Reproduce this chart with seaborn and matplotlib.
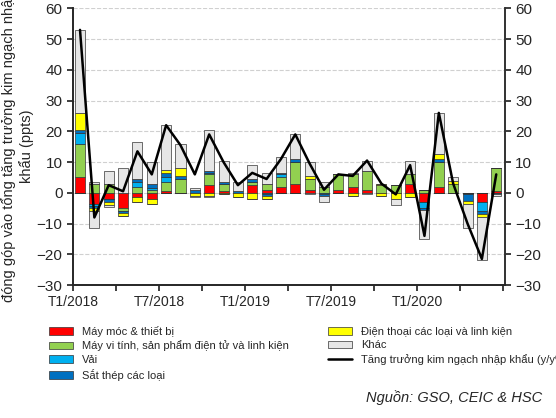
import numpy as np
import pandas as pd
import matplotlib.pyplot as plt
import seaborn as sns

sns.set_theme(style="white")
plt.rcParams["font.family"] = ["Arial", "Liberation Sans", "DejaVu Sans"]

# Months Jan 2018 - Jun 2020
months = pd.date_range("2018-01-01", "2020-06-01", freq="MS")
tick_labels = ["T1/2018", "T7/2018", "T1/2019", "T7/2019", "T1/2020"]

# Total import growth (y/y%)
total = [53, -8, 2.5, 0.5, 13.5, 6, 22, 15.5, 6, 19, 10, 2.5,
         6.5, 4.5, 11, 19, 9.5, 1, 6, 5.5, 10.5, 3, -0.5, 9,
         -14, 26, 3, -10, -21.5, 6]

# Contributions (ppts): positive part and negative part per category
may_moc_pos = [5, 0, 0, 0, 0, 0, 0.5, 0, 0, 2.5, 0.5, 0, 2.5, 1, 2, 3, 1, 0, 1, 2, 1, 0, 0, 3, 0, 2, 0, 0, 0, 0.5]
may_moc_neg = [0, -3.5, -2, -5, -1.5, -2, 0, 0, 0, 0, 0, 0, 0, 0, 0, 0, 0, 0, 0, 0, 0, 0, 0, 0, -3, 0, 0, 0, -3, 0]
may_tinh_pos = [11, 3, 3, 0, 2, 1, 3, 4.5, 0, 3.5, 2.5, 0, 1, 2, 3, 7, 3.5, 2, 5, 4, 6, 2.5, 2.5, 3, 1, 8, 3, 0, 0, 7.5]
may_tinh_neg = [0, 0, 0, -1, 0, 0, 0, 0, 0, 0, 0, 0, 0, 0, 0, 0, 0, 0, 0, 0, 0, 0, 0, 0, 0, 0, 0, -0.5, 0, 0]
vai_pos = [3.5, 0, 0, 0, 1.5, 0.5, 1.5, 0, 0, 0.5, 0, 0, 0, 0, 1, 0, 0, 0, 0, 0, 0, 0, 0, 0, 0, 0, 0, 0, 0, 0]
vai_neg = [0, -0.8, 0, 0, 0, 0, 0, 0, 0, 0, 0, 0, 0, -0.5, 0, 0, 0, -0.5, 0, 0, 0, 0, 0, 0, -2, 0, 0, 0, -3, 0]
sat_thep_pos = [1, 0, 0, 0, 1, 1.5, 1.5, 1, 1, 0.5, 0.5, 0.5, 1, 0, 0.5, 1, 0, 0, 0, 0, 0, 0, 0, 0, 0, 1, 0, 0, 0, 0]
sat_thep_neg = [0, -0.5, -1, -0.5, 0, 0, 0, 0, 0, 0, 0, 0, 0, -0.5, 0, 0, 0, -0.5, 0, 0, 0, 0, 0, 0, -0.5, 0, 0, -2, -1, -0.5]
dien_thoai_pos = [5.5, 0, 0, 0, 0, 0, 1, 2.5, 0, 0, 0, 0, 0, 0, 0, 0, 1, 0, 0, 0, 0, 0.5, 0, 0, 0, 1.5, 1, 0, 0, 0]
dien_thoai_neg = [0, -1, -1, -1, -1.5, -1.5, 0, 0, -1, -1, -0.5, -1.5, -2, -1, 0, 0, 0, 0, 0, -1, 0, -1, -2, -1.5, 0, 0, 0, -1, -1, 0]
khac_pos = [27, 0.5, 4, 8, 12, 7, 14.5, 8, 0.5, 13.5, 7, 3, 4.5, 3.5, 5, 8, 4.5, 1.5, 0, 0.5, 3.5, 0, 0, 4.5, 0, 13.5, 1, 0, 0, 0]
khac_neg = [0, -5.5, -0.5, 0, 0, 0, 0, 0, -0.5, -0.5, 0, 0, 0, 0, 0, 0, -0.5, -2, 0, 0, -0.5, 0, -2, 0, -9.5, 0, 0, -8, -14, -0.5]

series = [
    ("Máy móc & thiết bị", may_moc_pos, may_moc_neg, "#ff0000"),
    ("Máy vi tính, sản phẩm điện tử và linh kiện", may_tinh_pos, may_tinh_neg, "#92d050"),
    ("Vải", vai_pos, vai_neg, "#00b0f0"),
    ("Sắt thép các loại", sat_thep_pos, sat_thep_neg, "#0070c0"),
    ("Điện thoại các loại và linh kiện", dien_thoai_pos, dien_thoai_neg, "#ffff00"),
    ("Khác", khac_pos, khac_neg, "#e6e6e6"),
]

fig = plt.figure(figsize=(5.56, 4.18), dpi=100)
ax = fig.add_axes([0.131, 0.318, 0.777, 0.662])
x = np.arange(len(months))

pos_base = np.zeros(len(x))
neg_base = np.zeros(len(x))
handles = {}
for name, pos, neg, color in series:
    pos = np.array(pos, dtype=float)
    neg = np.array(neg, dtype=float)
    h = ax.bar(x, pos, bottom=pos_base, width=0.7, color=color, edgecolor="#333333", linewidth=0.5, zorder=2)
    ax.bar(x, neg, bottom=neg_base, width=0.7, color=color, edgecolor="#333333", linewidth=0.5, zorder=2)
    pos_base += pos
    neg_base += neg
    handles[name] = h

line_df = pd.DataFrame({"x": x, "total": total})
sns.lineplot(data=line_df, x="x", y="total", color="black", linewidth=1.8, ax=ax, zorder=3)
line_handle = ax.lines[-1]

ax.set_xlim(-0.45, 29.6)
ax.set_ylim(-30, 60)
ax.set_yticks(range(-30, 61, 10))
xt = np.arange(-0.5, 30, 3)
ax.set_xticks(xt)
ax.set_xticklabels([tick_labels[i // 2] if i % 2 == 0 and i // 2 < len(tick_labels) else "" for i in range(len(xt))])
ax.tick_params(axis="x", length=4, direction="out", labelsize=10, bottom=True)
ax.tick_params(axis="y", length=4, direction="out", labelsize=11, left=True)
ax.set_xlabel("")
ax.set_ylabel("đóng góp vào tổng tăng trưởng kim ngạch nhập\nkhẩu (ppts)", fontsize=10.5, labelpad=2)
ax.yaxis.grid(True, linestyle="--", color="#d0d0d0", linewidth=0.8, zorder=0)
ax.spines["top"].set_visible(False)
for s in ["left", "bottom", "right"]:
    ax.spines[s].set_color("#333333")

ax2 = ax.twinx()
ax2.set_ylim(-30, 60)
ax2.set_yticks(range(-30, 61, 10))
ax2.tick_params(axis="y", length=4, direction="out", labelsize=11, right=True)
ax2.spines["top"].set_visible(False)
ax2.spines["right"].set_color("#333333")
ax2.grid(False)

order = ["Máy móc & thiết bị", "Máy vi tính, sản phẩm điện tử và linh kiện", "Vải",
         "Sắt thép các loại", "Điện thoại các loại và linh kiện", "Khác"]
leg_h = [handles[n] for n in order] + [line_handle]
leg_l = order + ["Tăng trưởng kim ngạch nhập khẩu (y/y%)"]
fig.legend(leg_h, leg_l, loc="upper left", bbox_to_anchor=(0.07, 0.245), ncol=2,
           frameon=False, fontsize=8, handlelength=2.2, handleheight=0.7,
           columnspacing=3.5, labelspacing=0.35)

fig.text(0.975, 0.03, "Nguồn: GSO, CEIC & HSC", ha="right", va="bottom", fontsize=10.5, style="italic")

fig.savefig("out.png", dpi=100)
